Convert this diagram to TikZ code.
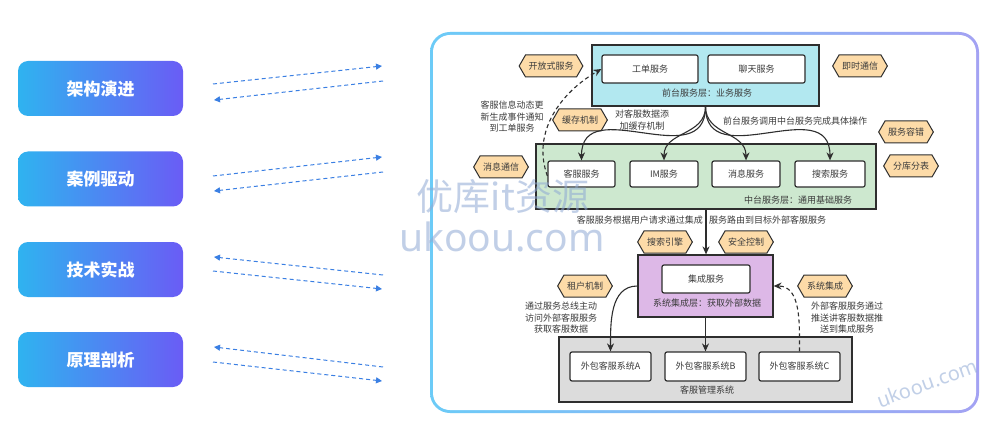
\documentclass[tikz,border=0pt]{standalone}
\usepackage{fontspec}
\newfontfamily\cjk{Noto Sans CJK SC}
\newfontfamily\wmfont{Noto Sans}
\usetikzlibrary{shapes.symbols,arrows.meta}
\definecolor{btnL}{HTML}{2FB3F0}
\definecolor{btnR}{HTML}{6A5CF5}
\definecolor{arrblue}{HTML}{3A7FE3}
\definecolor{frameL}{HTML}{6CCBF7}
\definecolor{frameR}{HTML}{A3A2F3}
\definecolor{linec}{HTML}{2E2E2E}
\definecolor{txtc}{HTML}{3C3C3C}
\definecolor{topfill}{HTML}{B2E8F0}
\definecolor{midfill}{HTML}{CDE8CF}
\definecolor{intfill}{HTML}{DDB8E7}
\definecolor{botfill}{HTML}{DCDCDC}
\definecolor{hexfill}{HTML}{FDDBA8}
\definecolor{wmc}{HTML}{8FA9D4}
\begin{document}
\begin{tikzpicture}[x=1pt,y=-1pt,
  btn/.style={rounded corners=10pt, left color=btnL, right color=btnR, text=white,
    minimum width=165pt, minimum height=55pt, inner sep=0,
    font=\cjk\bfseries\fontsize{17}{20}\selectfont},
  larr/.style={draw=arrblue, line width=1pt, dash pattern=on 4pt off 3pt,
    -{Triangle[length=6pt,width=6pt]}},
  layer/.style={draw=linec, line width=1.2pt, inner sep=0},
  box/.style={draw=linec, fill=white, line width=1.2pt, rounded corners=2pt, inner sep=0,
    text=txtc, font=\cjk\fontsize{9}{11}\selectfont},
  lbl/.style={text=txtc, inner sep=0, align=center, font=\cjk\fontsize{9}{11.5}\selectfont},
  hex/.style={shape=signal, signal to=east and west, signal pointer angle=120,
    draw=linec, fill=hexfill, line width=1pt, minimum height=22pt, inner xsep=3pt, inner ysep=2pt,
    text=txtc, font=\cjk\fontsize{9}{10}\selectfont},
  conn/.style={draw=linec, line width=1.1pt, -{Stealth[length=8pt,width=7pt]}},
  dconn/.style={conn, dash pattern=on 4pt off 3pt},
  wm/.style={text=wmc, opacity=0.55, inner sep=0}
]
\useasboundingbox (0,0) rectangle (1000,430);
\fill[white] (0,0) rectangle (1000,430);

% left buttons
\node[btn] (b1) at (100.5,88.5) {架构演进};
\node[btn] (b2) at (100.5,179) {案例驱动};
\node[btn] (b3) at (100.5,269.5) {技术实战};
\node[btn] (b4) at (100.5,359.5) {原理剖析};

% dashed arrows
\coordinate (p1a) at (213,84);  \coordinate (p1b) at (382,66);
\coordinate (p1c) at (383,81);  \coordinate (p1d) at (214,100);
\coordinate (p2a) at (213,176); \coordinate (p2b) at (382,157);
\coordinate (p2c) at (383,172); \coordinate (p2d) at (214,191);
\coordinate (p3a) at (383,275); \coordinate (p3b) at (214,257);
\coordinate (p3c) at (213,271); \coordinate (p3d) at (382,289);
\coordinate (p4a) at (383,367); \coordinate (p4b) at (214,347);
\coordinate (p4c) at (213,362); \coordinate (p4d) at (382,381);
\draw[larr] (p1a) -- (p1b);
\draw[larr] (p1c) -- (p1d);
\draw[larr] (p2a) -- (p2b);
\draw[larr] (p2c) -- (p2d);
\draw[larr] (p3a) -- (p3b);
\draw[larr] (p3c) -- (p3d);
\draw[larr] (p4a) -- (p4b);
\draw[larr] (p4c) -- (p4d);

% frame
\shade[left color=frameL, right color=frameR, rounded corners=20pt] (430,32) rectangle (979,413);
\fill[white, rounded corners=17pt] (433,35) rectangle (976,410);

% top layer
\node[layer, fill=topfill, minimum width=227pt, minimum height=61pt] (top) at (705.5,75.5) {};
\node[box, minimum width=96pt, minimum height=28pt] (gd) at (650,69) {工单服务};
\node[box, minimum width=97pt, minimum height=28pt] (lt) at (756.5,69) {聊天服务};
\node[lbl] (toplbl) at (707,93) {前台服务层：业务服务};

% middle layer
\node[layer, fill=midfill, minimum width=340pt, minimum height=65pt] (mid) at (706,176.5) {};
\node[box, minimum width=67pt, minimum height=26pt] (ks) at (581.5,174) {客服服务};
\node[box, minimum width=68pt, minimum height=26pt] (im) at (664,174) {IM服务};
\node[box, minimum width=68pt, minimum height=26pt] (xx) at (746,174) {消息服务};
\node[box, minimum width=70pt, minimum height=26pt] (ss) at (830,174) {搜索服务};
\node[lbl] (midlbl) at (798,200) {中台服务层：通用基础服务};

% integration layer
\node[layer, fill=intfill, minimum width=135pt, minimum height=62pt] (int) at (705.5,286) {};
\node[box, minimum width=88pt, minimum height=28pt] (jc) at (706,279) {集成服务};
\node[lbl] (intlbl) at (707,303) {系统集成层：获取外部数据};

% bottom layer
\node[layer, fill=botfill, minimum width=293pt, minimum height=65pt] (bot) at (705.5,369.5) {};
\node[box, minimum width=81pt, minimum height=29pt] (sa) at (610.5,366.5) {外包客服系统A};
\node[box, minimum width=81pt, minimum height=29pt] (sb) at (705.5,366.5) {外包客服系统B};
\node[box, minimum width=81pt, minimum height=29pt] (sc) at (799.5,366.5) {外包客服系统C};
\node[lbl] (botlbl) at (707,390) {客服管理系统};

% hexagons
\node[hex] (h1) at (551,66) {开放式服务};
\node[hex] (h2) at (860,66) {即时通信};
\node[hex] (h3) at (580,120) {缓存机制};
\node[hex] (h4) at (906,132) {服务容错};
\node[hex] (h5) at (911,166) {分库分表};
\node[hex] (h6) at (501,167) {消息通信};
\node[hex] (h7) at (665,242) {搜索引擎};
\node[hex] (h8) at (746,242) {安全控制};
\node[hex] (h9) at (585,286) {租户机制};
\node[hex] (h10) at (825,286) {系统集成};

% text labels
\node[lbl] (t1) at (512,117) {客服信息动态更\\新生成事件通知\\到工单服务};
\node[lbl] (t2) at (642,120) {对客服数据添\\加缓存机制};
\node[lbl, anchor=west] (t3) at (723,121) {前台服务调用中台服务完成具体操作};
\node[lbl, anchor=east] (t4) at (703,220) {客服服务根据用户请求通过集成};
\node[lbl, anchor=west] (t5) at (709,220) {服务路由到目标外部客服服务};
\node[lbl] (t6) at (561,318) {通过服务总线主动\\访问外部客服服务\\获取客服数据};
\node[lbl] (t7) at (847,318) {外部客服服务通过\\推送讲客服数据推\\送到集成服务};

% connectors
\draw[conn] (top.south) to[out=-90,in=90,looseness=1.3] (ks.north);
\draw[conn] (top.south) to[out=-90,in=90,looseness=1.1] (im.north);
\draw[conn] (top.south) to[out=-90,in=90,looseness=1.1] (xx.north);
\draw[conn] (top.south) to[out=-90,in=90,looseness=1.3] (ss.north);
\draw[dconn] ([yshift=-2pt]ks.west) to[out=110,in=210] (gd.west);
\draw[conn] (mid.south) -- (mid.south |- int.north);
\draw[conn] (int.west) to[out=180,in=90] (sa.north);
\draw[conn] (int.south) -- (sb.north);
\draw[dconn] (sc.north) to[out=90,in=0] (int.east);

% watermarks (overlay)
\node[wm, font=\cjk\fontsize{37}{40}\selectfont] (wm1) at (503,197) {优库it资源};
\node[wm, font=\wmfont\fontsize{39}{42}\selectfont] (wm2) at (502,237) {ukoou.com};
\node[wm, rotate=20, font=\wmfont\fontsize{20}{22}\selectfont] (wm3) at (927,383) {ukoou.com};
\end{tikzpicture}
\end{document}
